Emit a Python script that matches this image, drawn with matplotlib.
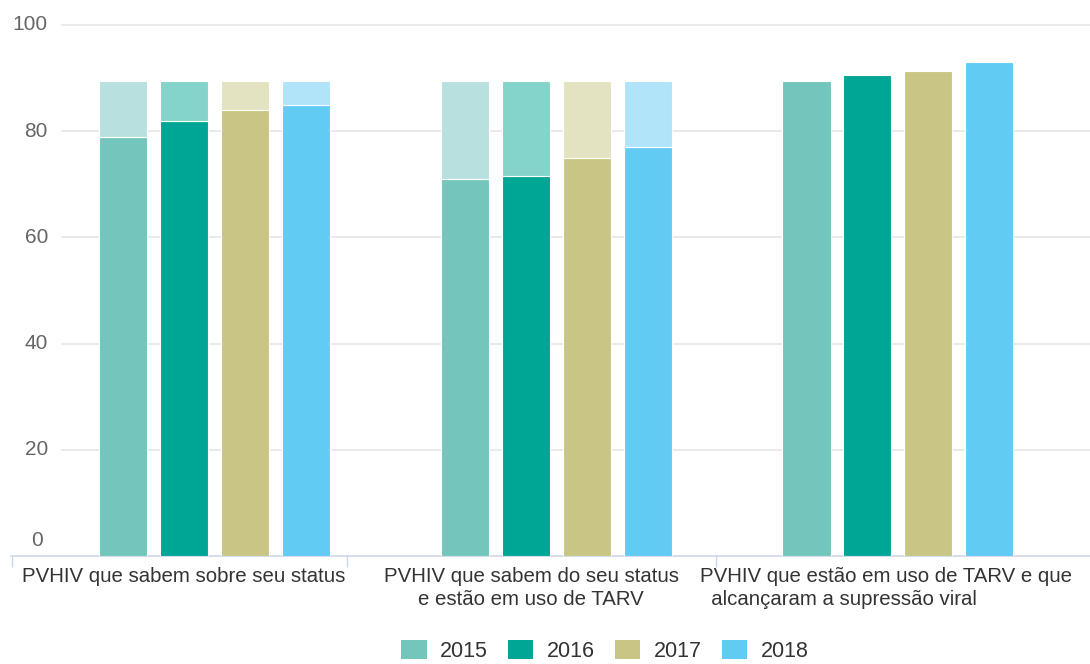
import matplotlib.pyplot as plt
from matplotlib.patches import Patch
import matplotlib.transforms as mtransforms

plt.rcParams['font.family'] = ['Liberation Sans', 'DejaVu Sans']

categories = [
    "PVHIV que sabem sobre seu status",
    "PVHIV que sabem do seu status\ne estão em uso de TARV",
    "PVHIV que estão em uso de TARV e que\n  alcançaram a supressão viral",
]
years = ["2015", "2016", "2017", "2018"]

# percentage reached per year, one list per cascade step
v2015 = [79.0, 71.0, 89.5]
v2016 = [82.0, 71.5, 90.5]
v2017 = [84.0, 75.0, 91.3]
v2018 = [85.0, 77.0, 93.0]

# 90% target, drawn as the faded top segment (not for the last step)
target = [89.5, 89.5, None]

colors = ["#72C6BC", "#00A695", "#C9C685", "#62CBF4"]
light = ["#B8E0DF", "#84D4CC", "#E4E3C1", "#B1E4F8"]

series = [v2015, v2016, v2017, v2018]

fig = plt.figure(figsize=(10.9, 6.64), dpi=100)
ax = fig.add_axes([11 / 1090, 108 / 664, 1079 / 1090, 531 / 664])

# groups sit at -1, 0, 1
pos = [-1, 0, 1]
pitch = 0.1785
width = 0.1405
for i, vals in enumerate(series):
    off = (i - 1.5) * pitch
    for j, v in enumerate(vals):
        ax.bar(pos[j] + off, v, width, color=colors[i], edgecolor="white",
               linewidth=0.8, zorder=3)
        if target[j] is not None and target[j] > v:
            ax.bar(pos[j] + off, target[j] - v, width, bottom=v, color=light[i],
                   edgecolor="white", linewidth=0.8, zorder=3)

x0, x1 = -1.596, 1.562
ax.set_xlim(x0, x1)
ax.set_ylim(0, 100)

# grid lines start a bit right of the axis origin
gx = x0 + 51 / 341.75
for y in [20, 40, 60, 80, 100]:
    ax.plot([gx, x1], [y, y], color="#e6e6e6", lw=1.2, zorder=1, clip_on=False)

for s in ["top", "right", "left"]:
    ax.spines[s].set_visible(False)
ax.spines["bottom"].set_color("#ccd6eb")
ax.spines["bottom"].set_linewidth(1.2)

ax.set_xticks([x0 + 0.002, -0.612, 0.467])
ax.set_xticklabels([])
ax.tick_params(axis="x", length=8, width=1, color="#ccd6eb", direction="out")
ax.set_yticks([])

# y labels
for y in [20, 40, 60, 80, 100]:
    ax.text(gx - 14 / 341.75, y, str(y), ha="right", va="center",
            fontsize=15, color="#666666")
off0 = mtransforms.offset_copy(ax.transData, fig=fig, x=0, y=16, units="dots")
ax.text(x0 + 32 / 341.75, 0, "0", ha="right", va="center", fontsize=15,
        color="#666666", transform=off0)

# category labels under the axis
trans = mtransforms.blended_transform_factory(ax.transData, fig.transFigure)
ytxt = 1 - 567 / 664
ax.text(-1.092, ytxt, categories[0], ha="center", va="top", fontsize=14.7,
        color="#333333", transform=trans, linespacing=1.25)
ax.text(-0.074, ytxt, categories[1], ha="center", va="top", fontsize=14.7,
        color="#333333", transform=trans, linespacing=1.25)
ax.text(0.420, ytxt, categories[2], ha="left", va="top", fontsize=14.7,
        color="#333333", transform=trans, linespacing=1.25)

handles = [Patch(facecolor=c, edgecolor="none") for c in colors]
fig.legend(handles, years, loc="center", bbox_to_anchor=(605 / 1090, 1 - 651 / 664),
           ncol=4, frameon=False, fontsize=15.5, handlelength=1.17, handleheight=1.0,
           handletextpad=0.62, columnspacing=0.95, labelcolor="#333333",
           borderpad=0.2)

fig.savefig("out.png", dpi=100)
